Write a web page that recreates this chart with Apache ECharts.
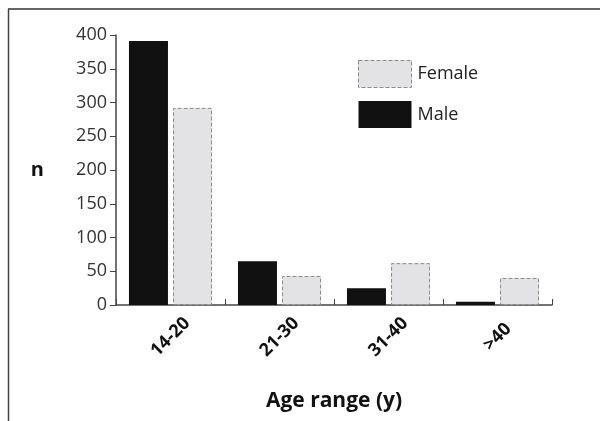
<!DOCTYPE html>
<html>
<head>
<meta charset="utf-8">
<script src="https://cdn.jsdelivr.net/npm/echarts@6/dist/echarts.min.js"></script>
<style>html,body{margin:0;padding:0;background:#fff}#c{width:600px;height:421px}</style>
</head>
<body>
<div id="c"></div>
<script>
const categories = ['14-20', '21-30', '31-40', '>40'];
const maleValues = [391, 65, 25, 5];
const femaleValues = [292, 43, 62, 40];
const yTicks = [0, 50, 100, 150, 200, 250, 300, 350, 400];

const FONT = '"Open Sans", "Noto Sans", sans-serif';
const chart = echarts.init(document.getElementById('c'));
chart.setOption({
  animation: false,
  backgroundColor: '#fff',
  textStyle: { fontFamily: FONT },
  grid: { left: 116, right: 48, top: 35, bottom: 116, containLabel: false },
  legend: {
    orient: 'vertical',
    left: 353, top: 55,
    itemWidth: 53, itemHeight: 27, itemGap: 13,
    icon: 'rect',
    data: [
      { name: 'Female', itemStyle: { borderColor: '#8a8a8a', borderWidth: 1, borderType: 'dashed' } },
      { name: 'Male' }
    ],
    textStyle: { fontFamily: FONT, fontSize: 18, color: '#222', padding: [0, 0, 0, 1] }
  },
  xAxis: {
    type: 'category',
    data: categories,
    axisLine: { lineStyle: { color: '#444', width: 1.5 } },
    axisTick: { show: true, inside: true, length: 6, lineStyle: { color: '#444' } },
    axisLabel: { rotate: 45, fontSize: 18, fontWeight: 'bold', color: '#111', margin: 32,
      align: 'center', verticalAlign: 'middle', fontFamily: FONT },
    name: 'Age range (y)',
    nameLocation: 'middle',
    nameGap: 86,
    nameTextStyle: { fontSize: 21, fontWeight: 'bold', color: '#111', fontFamily: FONT }
  },
  yAxis: {
    type: 'value',
    min: 0, max: 400, interval: 50,
    axisLine: { show: true, lineStyle: { color: '#444', width: 1.5 } },
    axisTick: { show: true, length: 6, lineStyle: { color: '#444' } },
    splitLine: { show: false },
    axisLabel: { fontSize: 18, color: '#333', margin: 9, fontFamily: FONT,
      formatter: v => yTicks.includes(v) ? String(v) : '' },
    name: 'n',
    nameLocation: 'middle',
    nameGap: 72,
    nameRotate: 0,
    nameTextStyle: { fontSize: 20, fontWeight: 'bold', color: '#111', fontFamily: FONT }
  },
  series: [
    {
      name: 'Male', type: 'bar', data: maleValues,
      barWidth: 39, barGap: '13%',
      itemStyle: { color: '#111111', borderColor: '#111', borderWidth: 0 }
    },
    {
      name: 'Female', type: 'bar', data: femaleValues,
      barWidth: 39,
      itemStyle: { color: '#e3e3e5', borderColor: '#8a8a8a', borderWidth: 1, borderType: 'dashed' }
    }
  ],
  graphic: [
    { type: 'line', shape: { x1: 8, y1: 9, x2: 600, y2: 9 }, style: { stroke: '#333', lineWidth: 1.5 } },
    { type: 'line', shape: { x1: 8.5, y1: 9, x2: 8.5, y2: 421 }, style: { stroke: '#444', lineWidth: 1.5 } }
  ]
});
</script>
</body>
</html>
